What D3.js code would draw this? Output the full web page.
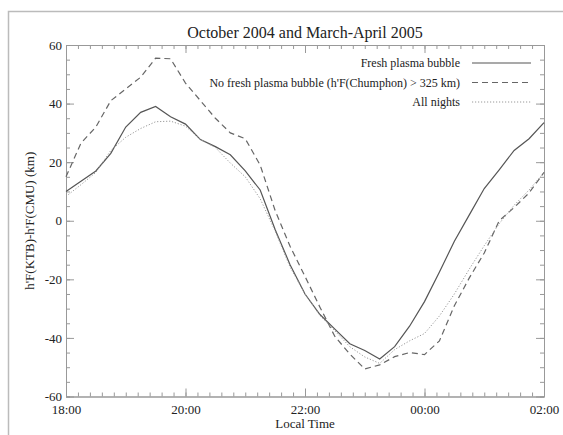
<!DOCTYPE html>
<html>
<head>
<meta charset="utf-8">
<script src="https://cdn.jsdelivr.net/npm/d3@7"></script>
<style>
  body { margin: 0; background: #fff; }
  text { font-family: "Liberation Serif", "DejaVu Serif", serif; fill: #222; }
</style>
</head>
<body>
<div id="chart"></div>
<script>
// Hora local (horas desde 18:00, pasos de 15 min hasta 02:00 = 26)
const hours = d3.range(18, 26.001, 0.25);

// h'F(KTB) - h'F(CMU) en km
const freshBubble = [10, 13.5, 17, 23, 32, 37, 39, 35.5, 33, 27.7, 25.3, 22.5, 17, 10.5, -3, -15, -25,
  -32, -37, -42, -44.3, -47.2, -43, -36, -27.6, -17.5, -7, 2, 11, 17.4, 24, 28, 33.5];
const noFreshBubble = [15, 26.5, 32, 41, 45, 49, 55.5, 55.3, 47, 41, 35, 30, 28, 19, 3.5, -8.7, -19,
  -29.5, -39.5, -45.5, -50.6, -49.2, -46.4, -45, -45.7, -41, -29, -19.5, -11, 0, 4.5, 9.5, 16.5];
const allNights = [8.3, 12.3, 16.5, 24, 28.5, 31.5, 33.8, 34, 32.3, 27.7, 25, 19.7, 15, 7.5, -3.5, -15.8, -25,
  -32.3, -37.6, -43, -46.5, -48.7, -44, -41, -38.5, -32.5, -25, -16.5, -8.5, -1, 5.3, 10.5, 16.5];

const xTicks = [18, 20, 22, 24, 26];
const yTicks = [-60, -40, -20, 0, 20, 40, 60];

const seriesNames = ["Fresh plasma bubble", "No fresh plasma bubble (h'F(Chumphon) > 325 km)", "All nights"];

const width = 563, height = 435;
const margin = { left: 66, right: 19, top: 45, bottom: 38.5 };

const svg = d3.select("#chart").append("svg")
  .attr("width", width)
  .attr("height", height);

// Marco gris exterior (recortado a la derecha y abajo)
svg.append("path")
  .attr("d", `M8.5,${height} L8.5,11.5 L${width},11.5`)
  .attr("fill", "none")
  .attr("stroke", "#bbb")
  .attr("stroke-width", 1.5);

const x = d3.scaleLinear().domain([18, 26]).range([margin.left, width - margin.right]);
const y = d3.scaleLinear().domain([-60, 60]).range([height - margin.bottom, margin.top]);

const fmtTime = d => String(d % 24).padStart(2, "0") + ":00";
const fmtY = d => String(d); // guion normal, como en el original
const axisColor = "#999";

function styleAxis(g) {
  g.attr("font-family", null);
  g.select(".domain").attr("stroke", axisColor);
  g.selectAll(".tick line").attr("stroke", axisColor);
  g.selectAll(".tick text").attr("font-size", 13).attr("fill", "#222");
}

// Ticks menores (cada 12 min en x, cada 5 km en y)
const xMinor = d3.range(18, 26.001, 0.2);
const yMinor = d3.range(-60, 60.001, 5);

svg.append("g")
  .attr("transform", `translate(0,${y(-60)})`)
  .call(d3.axisBottom(x).tickValues(xMinor).tickSize(-4).tickFormat(""))
  .call(styleAxis);
svg.append("g")
  .attr("transform", `translate(0,${y(60)})`)
  .call(d3.axisTop(x).tickValues(xMinor).tickSize(-4).tickFormat(""))
  .call(styleAxis);
svg.append("g")
  .attr("transform", `translate(${x(18)},0)`)
  .call(d3.axisLeft(y).tickValues(yMinor).tickSize(-4).tickFormat(""))
  .call(styleAxis);
svg.append("g")
  .attr("transform", `translate(${x(26)},0)`)
  .call(d3.axisRight(y).tickValues(yMinor).tickSize(-4).tickFormat(""))
  .call(styleAxis);

// Ticks mayores con etiquetas
svg.append("g")
  .attr("transform", `translate(0,${y(-60)})`)
  .call(d3.axisBottom(x).tickValues(xTicks).tickSizeInner(-8).tickSizeOuter(0).tickPadding(8).tickFormat(fmtTime))
  .call(styleAxis);
svg.append("g")
  .attr("transform", `translate(0,${y(60)})`)
  .call(d3.axisTop(x).tickValues(xTicks).tickSizeInner(-8).tickSizeOuter(0).tickFormat(""))
  .call(styleAxis);
svg.append("g")
  .attr("transform", `translate(${x(18)},0)`)
  .call(d3.axisLeft(y).tickValues(yTicks).tickSizeInner(-8).tickSizeOuter(0).tickPadding(4).tickFormat(fmtY))
  .call(styleAxis);
svg.append("g")
  .attr("transform", `translate(${x(26)},0)`)
  .call(d3.axisRight(y).tickValues(yTicks).tickSizeInner(-8).tickSizeOuter(0).tickFormat(""))
  .call(styleAxis);

// Curvas
const styles = [
  { data: freshBubble, color: "#555", width: 1.2, dash: null },
  { data: noFreshBubble, color: "#666", width: 1.2, dash: "6,4" },
  { data: allNights, color: "#999", width: 1, dash: "1.2,1.8" }
];

const line = d3.line()
  .x((d, i) => x(hours[i]))
  .y(d => y(d));

styles.forEach(s => {
  svg.append("path")
    .datum(s.data)
    .attr("d", line)
    .attr("fill", "none")
    .attr("stroke", s.color)
    .attr("stroke-width", s.width)
    .attr("stroke-dasharray", s.dash);
});

// Leyenda
const legend = svg.append("g").attr("transform", "translate(460,63)");
seriesNames.forEach((name, i) => {
  const row = legend.append("g").attr("transform", `translate(0,${i * 19.5})`);
  row.append("text")
    .attr("x", 0).attr("y", 4)
    .attr("text-anchor", "end")
    .attr("font-size", 12)
    .text(name);
  row.append("line")
    .attr("x1", 12).attr("x2", 71)
    .attr("stroke", styles[i].color)
    .attr("stroke-width", styles[i].width)
    .attr("stroke-dasharray", styles[i].dash);
});

// Titulo y etiquetas
svg.append("text")
  .attr("x", (x(18) + x(26)) / 2)
  .attr("y", 38)
  .attr("text-anchor", "middle")
  .attr("font-size", 16)
  .text("October 2004 and March-April 2005");

svg.append("text")
  .attr("x", (x(18) + x(26)) / 2)
  .attr("y", 428)
  .attr("text-anchor", "middle")
  .attr("font-size", 13)
  .text("Local Time");

svg.append("text")
  .attr("transform", `translate(34,${y(0)}) rotate(-90)`)
  .attr("text-anchor", "middle")
  .attr("font-size", 13)
  .text("h'F(KTB)-h'F(CMU) (km)");
</script>
</body>
</html>
